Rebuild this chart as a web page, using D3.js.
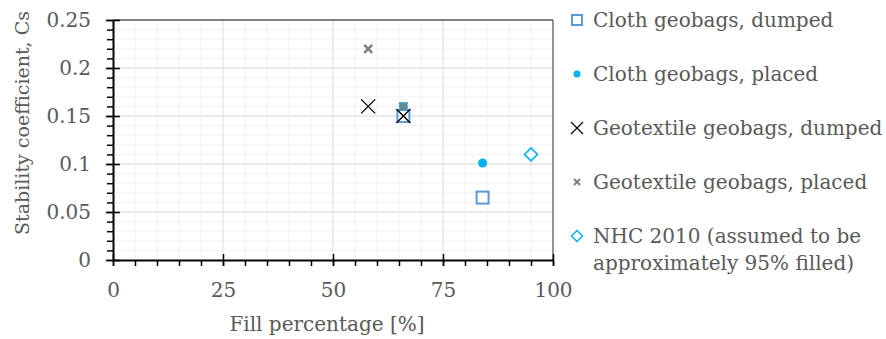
<!DOCTYPE html>
<html>
<head>
<meta charset="utf-8">
<script src="https://cdn.jsdelivr.net/npm/d3@7/dist/d3.min.js"></script>
<style>
  html, body { margin: 0; padding: 0; background: #fff; }
  svg text { font-family: "DejaVu Serif", "Liberation Serif", serif; fill: #595959; }
</style>
</head>
<body>
<svg id="chart" width="886" height="339"></svg>
<script>
// Stability coefficient vs. fill percentage for geobag tests
const seriesNames = [
  "Cloth geobags, dumped",
  "Cloth geobags, placed",
  "Geotextile geobags, dumped",
  "Geotextile geobags, placed",
  "NHC 2010 (assumed to be approximately 95% filled)"
];
const clothDumpedFill = [84, 66];
const clothDumpedCs = [0.065, 0.15];
const clothPlacedFill = [84, 66];
const clothPlacedCs = [0.101, 0.16];
const geoDumpedFill = [58, 66];
const geoDumpedCs = [0.16, 0.15];
const geoPlacedFill = [58, 66];
const geoPlacedCs = [0.22, 0.16];
const nhcFill = [95];
const nhcCs = [0.11];

const xTicks = [0, 25, 50, 75, 100];
const yTicks = [0, 0.05, 0.1, 0.15, 0.2, 0.25];

const FS = 20;
const svg = d3.select("#chart");
const plot = { left: 113, right: 553, top: 20, bottom: 260 };

const x = d3.scaleLinear().domain([0, 100]).range([plot.left, plot.right]);
const y = d3.scaleLinear().domain([0, 0.25]).range([plot.bottom, plot.top]);

// minor grid
const g = svg.append("g");
d3.range(0, 101, 5).filter(v => v % 25 !== 0).forEach(v => {
  g.append("line").attr("x1", x(v)).attr("x2", x(v)).attr("y1", plot.top).attr("y2", plot.bottom)
    .attr("stroke", "#F2F2F2").attr("stroke-width", 1);
});
d3.range(0, 26, 1).map(v => v / 100).filter((v, i) => i % 5 !== 0).forEach(v => {
  g.append("line").attr("x1", plot.left).attr("x2", plot.right).attr("y1", y(v)).attr("y2", y(v))
    .attr("stroke", "#F2F2F2").attr("stroke-width", 1);
});
// major grid
xTicks.slice(1, -1).forEach(v => {
  g.append("line").attr("x1", x(v)).attr("x2", x(v)).attr("y1", plot.top).attr("y2", plot.bottom)
    .attr("stroke", "#E3E3E3").attr("stroke-width", 1.3);
});
yTicks.slice(1, -1).forEach(v => {
  g.append("line").attr("x1", plot.left).attr("x2", plot.right).attr("y1", y(v)).attr("y2", y(v))
    .attr("stroke", "#E3E3E3").attr("stroke-width", 1.3);
});
// frame top and right
g.append("line").attr("x1", plot.left).attr("x2", plot.right).attr("y1", plot.top).attr("y2", plot.top)
  .attr("stroke", "#595959").attr("stroke-width", 1.3);
g.append("line").attr("x1", plot.right).attr("x2", plot.right).attr("y1", plot.top).attr("y2", plot.bottom)
  .attr("stroke", "#595959").attr("stroke-width", 1.3);

// axes
const xMinor = d3.axisBottom(x).tickValues(d3.range(0, 101, 5)).tickSize(6).tickFormat("");
svg.append("g").attr("transform", `translate(0,${plot.bottom})`).call(xMinor)
  .call(a => a.select(".domain").remove())
  .call(a => a.selectAll("line").attr("stroke", "#000").attr("stroke-width", 1.5));
const xMajor = d3.axisBottom(x).tickValues(xTicks).tickSizeInner(6).tickSizeOuter(0).tickFormat(d3.format("d"));
svg.append("g").attr("transform", `translate(0,${plot.bottom})`).call(xMajor)
  .call(a => a.select(".domain").attr("stroke", "#000").attr("stroke-width", 2))
  .call(a => a.selectAll(".tick line").attr("y1", -6).attr("y2", 6).attr("stroke", "#000").attr("stroke-width", 1.5))
  .call(a => a.selectAll("text").attr("y", 23).attr("font-size", FS).attr("fill", "#595959")
    .style("font-family", '"DejaVu Serif", serif'));

const yMinor = d3.axisLeft(y).tickValues(d3.range(0, 26, 1).map(v => v / 100)).tickSize(6).tickFormat("");
svg.append("g").attr("transform", `translate(${plot.left},0)`).call(yMinor)
  .call(a => a.select(".domain").remove())
  .call(a => a.selectAll("line").attr("stroke", "#000").attr("stroke-width", 1.5));
const yMajor = d3.axisLeft(y).tickValues(yTicks).tickSizeInner(6).tickSizeOuter(0).tickFormat(d => d === 0 ? "0" : String(+d.toFixed(2)));
svg.append("g").attr("transform", `translate(${plot.left},0)`).call(yMajor)
  .call(a => a.select(".domain").attr("stroke", "#000").attr("stroke-width", 2))
  .call(a => a.selectAll(".tick line").attr("x1", -7).attr("x2", 7).attr("stroke", "#000").attr("stroke-width", 1.5))
  .call(a => a.selectAll("text").attr("x", -22).attr("font-size", FS).attr("fill", "#595959")
    .style("font-family", '"DejaVu Serif", serif'));

// axis titles
svg.append("text").attr("x", 327).attr("y", 331)
  .attr("text-anchor", "middle").attr("font-size", FS).text("Fill percentage [%]");
svg.append("text").attr("transform", `translate(29,123) rotate(-90)`)
  .attr("text-anchor", "middle").attr("font-size", 19).text("Stability coefficient, Cs");

// marker renderers
const markers = {
  square: (sel, cx, cy) => sel.append("rect").attr("x", cx - 6).attr("y", cy - 6).attr("width", 12).attr("height", 12)
    .attr("fill", "none").attr("stroke", "#5B9BD5").attr("stroke-width", 2),
  dot: (sel, cx, cy) => sel.append("circle").attr("cx", cx).attr("cy", cy).attr("r", 4.5).attr("fill", "#00B0F0"),
  bigX: (sel, cx, cy) => sel.append("path").attr("d", `M${cx - 7},${cy - 7}L${cx + 7},${cy + 7}M${cx - 7},${cy + 7}L${cx + 7},${cy - 7}`)
    .attr("stroke", "#000").attr("stroke-width", 1.3).attr("fill", "none"),
  smallX: (sel, cx, cy) => sel.append("path").attr("d", `M${cx - 4},${cy - 4}L${cx + 4},${cy + 4}M${cx - 4},${cy + 4}L${cx + 4},${cy - 4}`)
    .attr("stroke", "#7F7F7F").attr("stroke-width", 2.5).attr("fill", "none"),
  diamond: (sel, cx, cy) => sel.append("path").attr("d", `M${cx},${cy - 6.5}L${cx + 6.5},${cy}L${cx},${cy + 6.5}L${cx - 6.5},${cy}Z`)
    .attr("stroke", "#00B0F0").attr("stroke-width", 1.5).attr("fill", "#fff")
};

const series = [
  { name: seriesNames[0], xs: clothDumpedFill, ys: clothDumpedCs, m: "square" },
  { name: seriesNames[1], xs: clothPlacedFill, ys: clothPlacedCs, m: "dot" },
  { name: seriesNames[2], xs: geoDumpedFill, ys: geoDumpedCs, m: "bigX" },
  { name: seriesNames[3], xs: geoPlacedFill, ys: geoPlacedCs, m: "smallX" },
  { name: seriesNames[4], xs: nhcFill, ys: nhcCs, m: "diamond" }
];

const pts = svg.append("g");
series.forEach(s => {
  s.xs.forEach((v, i) => markers[s.m](pts, x(v), y(s.ys[i])));
});

// legend
const leg = svg.append("g");
const legendLines = [
  ["Cloth geobags, dumped"],
  ["Cloth geobags, placed"],
  ["Geotextile geobags, dumped"],
  ["Geotextile geobags, placed"],
  ["NHC 2010 (assumed to be", "approximately 95% filled)"]
];
series.forEach((s, i) => {
  const cy = 20 + i * 54;
  const sc = leg.append("g");
  if (s.m === "square") sc.append("rect").attr("x", 572).attr("y", cy - 5).attr("width", 10).attr("height", 10)
    .attr("fill", "none").attr("stroke", "#5B9BD5").attr("stroke-width", 2);
  else if (s.m === "dot") sc.append("circle").attr("cx", 577).attr("cy", cy).attr("r", 3.5).attr("fill", "#00B0F0");
  else if (s.m === "bigX") sc.append("path").attr("d", `M571,${cy - 6}L583,${cy + 6}M571,${cy + 6}L583,${cy - 6}`)
    .attr("stroke", "#000").attr("stroke-width", 1.2);
  else if (s.m === "smallX") sc.append("path").attr("d", `M574,${cy - 3}L580,${cy + 3}M574,${cy + 3}L580,${cy - 3}`)
    .attr("stroke", "#7F7F7F").attr("stroke-width", 2);
  else sc.append("path").attr("d", `M577,${cy - 5.5}L582.5,${cy}L577,${cy + 5.5}L571.5,${cy}Z`)
    .attr("fill", "none").attr("stroke", "#00B0F0").attr("stroke-width", 1.4);
  const t = leg.append("text").attr("x", 593).attr("y", cy + 7).attr("font-size", FS);
  legendLines[i].forEach((line, j) => {
    t.append("tspan").attr("x", 593).attr("dy", j === 0 ? 0 : 27).text(line);
  });
});
</script>
</body>
</html>
